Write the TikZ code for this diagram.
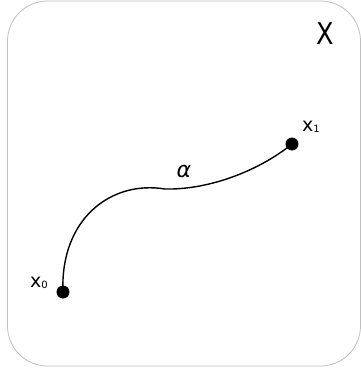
\documentclass[tikz,border=0pt]{standalone}
\usepackage{fontspec}
\setmainfont{DejaVu Sans}
\begin{document}
\begin{tikzpicture}[x=1pt,y=-1pt,
  frame/.style={draw=black!25,line width=0.8pt,rounded corners=40pt},
  dot/.style={circle,fill=black,inner sep=0pt,minimum size=13pt},
  lbl/.style={inner sep=0pt,anchor=center},
  path/.style={line width=1.4pt,black}]
\useasboundingbox (0,0) rectangle (361,368);
\draw[frame] (7.5,1) rectangle (360.5,366);
\node[lbl,font=\fontsize{30}{30}\selectfont\addfontfeatures{FakeStretch=0.85}] (X) at (325,34) {X};
\node[dot] (p0) at (63,292) {};
\node[dot] (p1) at (292,144) {};
\coordinate (m) at (165,189);
\draw[path] (p0.center) .. controls (60,220) and (110,180) .. (m)
  .. controls (210,190) and (260,170) .. (p1.center);
\node[lbl,font=\fontsize{22}{22}\selectfont\itshape] (a) at (184,171) {α};
\node[lbl,font=\fontsize{19}{19}\selectfont] (l0) at (39,283) {x\raisebox{-1pt}{\fontsize{10}{10}\selectfont 0}};
\node[lbl,font=\fontsize{19}{19}\selectfont] (l1) at (311,127) {x\raisebox{-1pt}{\fontsize{10}{10}\selectfont 1}};
\end{tikzpicture}
\end{document}
